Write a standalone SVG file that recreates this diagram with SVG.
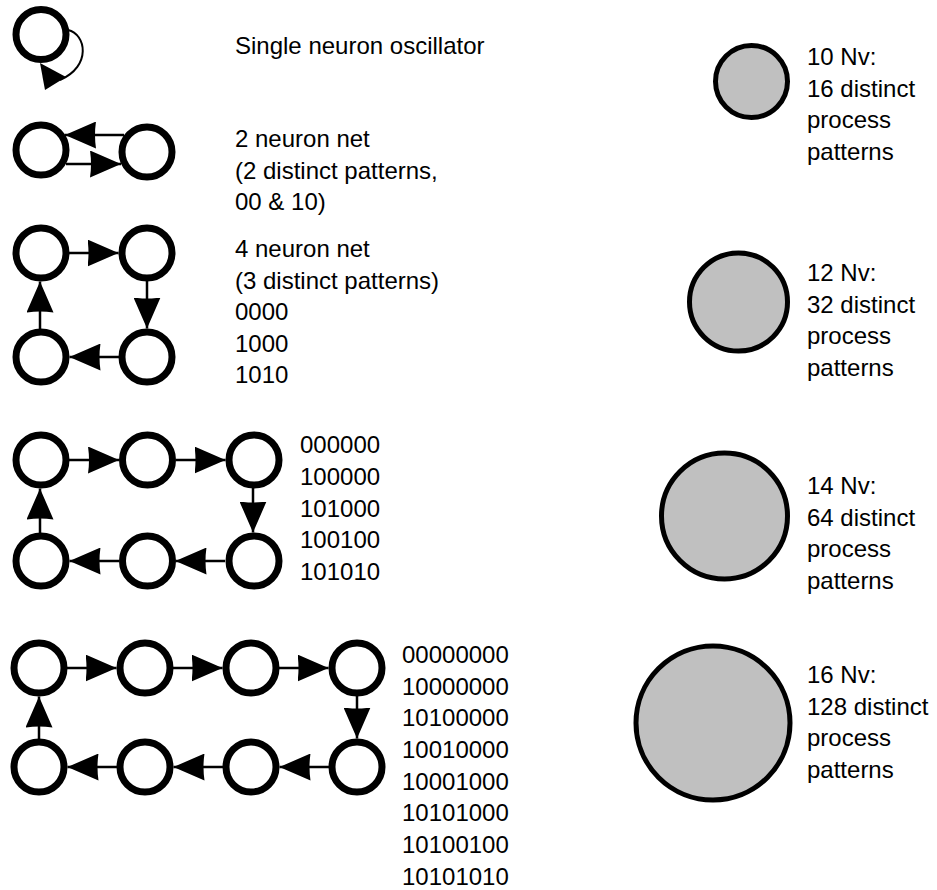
<svg xmlns="http://www.w3.org/2000/svg" width="937" height="890" viewBox="0 0 937 890">
  <style>
    .neuron { fill: #ffffff; stroke: #000000; stroke-width: 7; }
    .pool { fill: #c0c0c0; stroke: #000000; stroke-width: 5; }
    .link { stroke: #000000; stroke-width: 2.5; fill: none; marker-end: url(#head); }
    .loop { stroke: #000000; stroke-width: 2; fill: none; }
    text { font-family: "Liberation Sans", Arial, sans-serif; font-size: 24px; fill: #000000; }
  </style>
  <defs>
    <marker id="head" viewBox="0 0 31 27" markerWidth="31" markerHeight="27" refX="31" refY="13.5" orient="auto" markerUnits="userSpaceOnUse">
      <path d="M0,0 L31,13.5 L0,27 Q2,13.5 0,0 z" fill="#000000"/>
    </marker>
  </defs>
  <rect width="937" height="890" fill="#ffffff"/>

  <!-- connectors -->
  <g id="connectors">
    <!-- single neuron self loop -->
    <path class="loop" d="M68,30 C86,34 92,66 60,80"/>
    <polygon points="40,63 66,77 45,90" fill="#000000"/>
    <!-- 2 neuron net -->
    <line class="link" x1="124" y1="135" x2="65" y2="135"/>
    <line class="link" x1="66" y1="164" x2="121" y2="164"/>
    <!-- 4 neuron net -->
    <line class="link" x1="69" y1="253" x2="118.5" y2="253"/>
    <line class="link" x1="147" y1="281" x2="147" y2="328.5"/>
    <line class="link" x1="119" y1="357" x2="69.5" y2="357"/>
    <line class="link" x1="40" y1="329" x2="40" y2="281.5"/>
    <!-- 6 neuron net -->
    <line class="link" x1="69" y1="460" x2="119" y2="460"/>
    <line class="link" x1="176" y1="460" x2="225.5" y2="460"/>
    <line class="link" x1="253" y1="488" x2="253" y2="532.5"/>
    <line class="link" x1="225" y1="561" x2="175.5" y2="561"/>
    <line class="link" x1="119" y1="561" x2="69.5" y2="561"/>
    <line class="link" x1="40" y1="533" x2="40" y2="488.5"/>
    <!-- 8 neuron net -->
    <line class="link" x1="67" y1="668" x2="116.5" y2="668"/>
    <line class="link" x1="173" y1="668" x2="222.5" y2="668"/>
    <line class="link" x1="279" y1="668" x2="328.5" y2="668"/>
    <line class="link" x1="357" y1="696" x2="357" y2="738.5"/>
    <line class="link" x1="329" y1="767" x2="279.5" y2="767"/>
    <line class="link" x1="223" y1="767" x2="173.5" y2="767"/>
    <line class="link" x1="117" y1="767" x2="67.5" y2="767"/>
    <line class="link" x1="39" y1="739" x2="39" y2="696.5"/>
  </g>

  <!-- single neuron oscillator -->
  <g id="osc1"><circle class="neuron" cx="41" cy="34.5" r="25"/></g>

  <!-- 2 neuron net -->
  <g id="net2-a"><circle class="neuron" cx="41" cy="150" r="25"/></g>
  <g id="net2-b"><circle class="neuron" cx="147" cy="152" r="25"/></g>

  <!-- 4 neuron net -->
  <g id="net4-a"><circle class="neuron" cx="41" cy="253" r="25"/></g>
  <g id="net4-b"><circle class="neuron" cx="147" cy="253" r="25"/></g>
  <g id="net4-c"><circle class="neuron" cx="147" cy="357" r="25"/></g>
  <g id="net4-d"><circle class="neuron" cx="41" cy="357" r="25"/></g>

  <!-- 6 neuron net -->
  <g id="net6-a"><circle class="neuron" cx="41" cy="460" r="25"/></g>
  <g id="net6-b"><circle class="neuron" cx="147.5" cy="460" r="25"/></g>
  <g id="net6-c"><circle class="neuron" cx="254" cy="460" r="25"/></g>
  <g id="net6-d"><circle class="neuron" cx="254" cy="561" r="25"/></g>
  <g id="net6-e"><circle class="neuron" cx="147.5" cy="561" r="25"/></g>
  <g id="net6-f"><circle class="neuron" cx="41" cy="561" r="25"/></g>

  <!-- 8 neuron net -->
  <g id="net8-a"><circle class="neuron" cx="39" cy="668" r="25"/></g>
  <g id="net8-b"><circle class="neuron" cx="145" cy="668" r="25"/></g>
  <g id="net8-c"><circle class="neuron" cx="251" cy="668" r="25"/></g>
  <g id="net8-d"><circle class="neuron" cx="357" cy="668" r="25"/></g>
  <g id="net8-e"><circle class="neuron" cx="357" cy="767" r="25"/></g>
  <g id="net8-f"><circle class="neuron" cx="251" cy="767" r="25"/></g>
  <g id="net8-g"><circle class="neuron" cx="145" cy="767" r="25"/></g>
  <g id="net8-h"><circle class="neuron" cx="39" cy="767" r="25"/></g>

  <!-- left captions -->
  <g id="label-osc1"><text x="235" y="54">Single neuron oscillator</text></g>
  <g id="label-net2">
    <text x="235" y="147">2 neuron net</text>
    <text x="235" y="179">(2 distinct patterns,</text>
    <text x="235" y="210">00 &amp; 10)</text>
  </g>
  <g id="label-net4">
    <text x="235" y="257">4 neuron net</text>
    <text x="235" y="288.5">(3 distinct patterns)</text>
    <text x="235" y="320">0000</text>
    <text x="235" y="352">1000</text>
    <text x="235" y="383">1010</text>
  </g>
  <g id="label-net6">
    <text x="300" y="453">000000</text>
    <text x="300" y="485">100000</text>
    <text x="300" y="517">101000</text>
    <text x="300" y="548">100100</text>
    <text x="300" y="580">101010</text>
  </g>
  <g id="label-net8">
    <text x="402" y="663">00000000</text>
    <text x="402" y="695">10000000</text>
    <text x="402" y="726">10100000</text>
    <text x="402" y="758">10010000</text>
    <text x="402" y="790">10001000</text>
    <text x="402" y="821">10101000</text>
    <text x="402" y="853">10100100</text>
    <text x="402" y="885">10101010</text>
  </g>

  <!-- pooled networks -->
  <g id="pool10">
    <circle class="pool" cx="751.5" cy="81.5" r="36"/>
    <text x="807" y="65">10 Nv:</text>
    <text x="807" y="97">16 distinct</text>
    <text x="807" y="128">process</text>
    <text x="807" y="160">patterns</text>
  </g>
  <g id="pool12">
    <circle class="pool" cx="738.5" cy="302" r="49"/>
    <text x="807" y="281">12 Nv:</text>
    <text x="807" y="313">32 distinct</text>
    <text x="807" y="344">process</text>
    <text x="807" y="376">patterns</text>
  </g>
  <g id="pool14">
    <circle class="pool" cx="724.5" cy="516" r="63"/>
    <text x="807" y="494">14 Nv:</text>
    <text x="807" y="526">64 distinct</text>
    <text x="807" y="557">process</text>
    <text x="807" y="589">patterns</text>
  </g>
  <g id="pool16">
    <circle class="pool" cx="713" cy="723" r="77"/>
    <text x="807" y="683">16 Nv:</text>
    <text x="807" y="715">128 distinct</text>
    <text x="807" y="746">process</text>
    <text x="807" y="778">patterns</text>
  </g>
</svg>
